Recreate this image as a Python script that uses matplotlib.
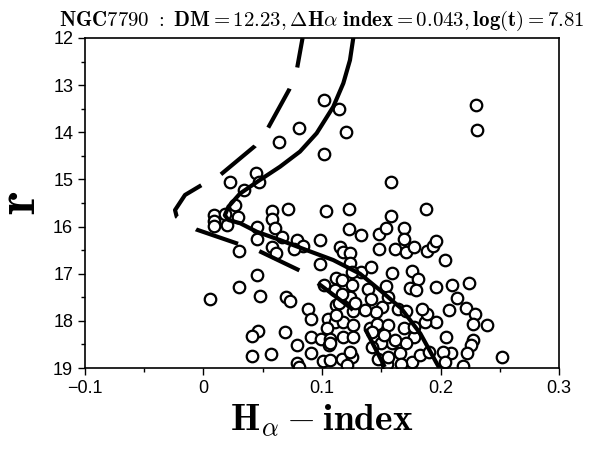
import matplotlib
matplotlib.use("Agg")
import matplotlib.pyplot as plt
from matplotlib.ticker import MultipleLocator

plt.rcParams['mathtext.fontset'] = 'cm'
plt.rcParams['font.family'] = ['Liberation Sans', 'DejaVu Sans']

# Observed stars: H-alpha index vs r magnitude
star_x = [0.102, 0.114, 0.081, 0.064, 0.102, 0.044, 0.022, 0.034, 0.047, 0.027,
          0.120, 0.230, 0.231, 0.158, 0.009, 0.009, 0.009, 0.020, 0.018, 0.029,
          0.0575, 0.0575, 0.071, 0.103, 0.045, 0.060, 0.045, 0.066, 0.079, 0.084,
          0.076, 0.0575, 0.061, 0.030, 0.098, 0.098, 0.115, 0.045, 0.030, 0.0055,
          0.048, 0.070, 0.073, 0.0885, 0.091, 0.102, 0.112, 0.111, 0.112, 0.105,
          0.111, 0.104, 0.046, 0.041, 0.069, 0.091, 0.099, 0.079, 0.106, 0.041,
          0.057, 0.091, 0.079, 0.101, 0.107, 0.123, 0.188, 0.158, 0.123, 0.133,
          0.148, 0.154, 0.169, 0.169, 0.118, 0.124, 0.148, 0.162, 0.171, 0.178,
          0.189, 0.194, 0.196, 0.204, 0.124, 0.133, 0.141, 0.159, 0.176, 0.181,
          0.174, 0.179, 0.196, 0.210, 0.224, 0.214, 0.207, 0.2215, 0.229, 0.227,
          0.2395, 0.196, 0.187, 0.189, 0.184, 0.205, 0.227, 0.226, 0.222, 0.209,
          0.202, 0.252, 0.219, 0.204, 0.117, 0.125, 0.124, 0.114, 0.117, 0.125,
          0.1386, 0.1414, 0.1537, 0.151, 0.1456, 0.136, 0.126, 0.128, 0.118, 0.126,
          0.118, 0.126, 0.1405, 0.1467, 0.156, 0.164, 0.171, 0.169, 0.178, 0.159,
          0.150, 0.142, 0.171, 0.166, 0.176, 0.183, 0.190, 0.107, 0.117, 0.125,
          0.121, 0.1475, 0.1545, 0.156, 0.112, 0.178, 0.142, 0.152, 0.162, 0.124,
          0.156, 0.167, 0.107, 0.081]
star_r = [13.32, 13.51, 13.90, 14.20, 14.47, 14.87, 15.05, 15.23, 15.05, 15.54,
          13.99, 13.43, 13.96, 15.06, 15.76, 15.88, 15.99, 15.96, 15.73, 15.79,
          15.67, 15.83, 15.63, 15.67, 16.00, 16.03, 16.27, 16.22, 16.29, 16.42,
          16.47, 16.43, 16.57, 16.52, 16.29, 16.80, 16.44, 17.03, 17.29, 17.54,
          17.48, 17.49, 17.58, 17.74, 17.95, 17.23, 17.10, 17.34, 17.67, 17.95,
          18.02, 18.16, 18.21, 18.32, 18.24, 18.34, 18.38, 18.52, 18.52, 18.75,
          18.70, 18.68, 18.89, 18.85, 18.84, 15.63, 15.63, 15.77, 16.06, 16.18,
          16.15, 16.02, 16.04, 16.27, 16.55, 16.57, 16.47, 16.48, 16.55, 16.43,
          16.52, 16.41, 16.30, 16.70, 16.78, 16.96, 16.86, 16.98, 16.95, 17.12,
          17.31, 17.35, 17.29, 17.24, 17.19, 17.51, 17.76, 17.72, 17.85, 18.06,
          18.08, 18.02, 18.02, 17.85, 17.74, 18.34, 18.41, 18.52, 18.68, 18.68,
          18.65, 18.77, 18.96, 18.87, 17.14, 17.24, 17.49, 17.63, 17.42, 16.96,
          17.33, 17.53, 17.26, 17.70, 17.81, 17.77, 17.79, 17.63, 18.02, 18.09,
          18.34, 18.34, 18.16, 18.06, 18.09, 17.74, 17.79, 18.16, 18.34, 18.48,
          18.48, 18.55, 18.48, 18.69, 18.87, 18.73, 18.66, 18.39, 18.80, 18.77,
          18.94, 18.80, 18.91, 17.49, 17.88, 18.13, 18.23, 18.31, 18.41, 18.66,
          18.77, 18.91, 18.48, 18.97]

# Isochrone (solid)
iso_x = [0.1264, 0.1236, 0.118, 0.1095, 0.0955, 0.0814, 0.0646, 0.0477, 0.0308,
         0.021, 0.018, 0.021, 0.031, 0.045, 0.065, 0.087, 0.1095, 0.132, 0.149,
         0.167, 0.183, 0.197, 0.199]
iso_r = [12.0, 12.47, 12.96, 13.46, 14.02, 14.41, 14.73, 15.01, 15.30,
         15.58, 15.76, 15.86, 15.93, 16.11, 16.29, 16.50, 16.71, 17.00, 17.35,
         17.74, 18.27, 18.91, 19.0]

# Shifted isochrone (dashed)
dash_x = [0.0836, 0.079, 0.0724, 0.0538, 0.0435, 0.0139, -0.0016, -0.0156, -0.024,
          -0.0226, -0.015, -0.0063, 0.0285, 0.047, 0.081, 0.097, 0.125, 0.1363,
          0.153]
dash_r = [12.0, 12.64, 13.09, 13.94, 14.29, 14.91, 15.12, 15.33, 15.65,
          15.79, 15.93, 16.06, 16.36, 16.52, 16.93, 17.21, 17.74, 18.16,
          18.98]

title = r'$\mathbf{NGC7790\ :\ DM = 12.23, \Delta H\alpha\ index = 0.043, log(t) = 7.81}$'

fig = plt.figure(figsize=(5.93, 4.5), dpi=100)
ax = fig.add_axes([0.1433, 0.1822, 0.7994, 0.7334])

ax.plot(star_x, star_r, 'o', ms=8.3, mfc='white', mec='black', mew=1.6,
        ls='none', zorder=2)
ax.plot(iso_x, iso_r, '-', color='black', lw=3.0, zorder=3)
ax.plot(dash_x, dash_r, color='black', lw=3.0, zorder=3,
        linestyle=(3.47, (10.67, 5.4)))

ax.set_xlim(-0.1, 0.3)
ax.set_ylim(19, 12)
ax.set_xticks([-0.1, 0, 0.1, 0.2, 0.3])
ax.set_xticklabels(['\u22120.1', '0', '0.1', '0.2', '0.3'])
ax.set_yticks([12, 13, 14, 15, 16, 17, 18, 19])
ax.xaxis.set_minor_locator(MultipleLocator(0.05))
ax.yaxis.set_minor_locator(MultipleLocator(0.5))
ax.tick_params(which='major', direction='out', length=5, width=1,
               labelsize=13, top=False, right=False)
ax.tick_params(which='minor', direction='out', length=3, width=1,
               top=False, right=False)
for s in ax.spines.values():
    s.set_linewidth(1.2)

ax.set_xlabel(r'$\mathbf{H_{\alpha} - index}$', fontsize=27, labelpad=4)
ax.set_ylabel(r'$\mathbf{r}$', fontsize=40, labelpad=4)
ax.set_title(title, fontsize=15, pad=9)

fig.savefig('out.png', dpi=100)
